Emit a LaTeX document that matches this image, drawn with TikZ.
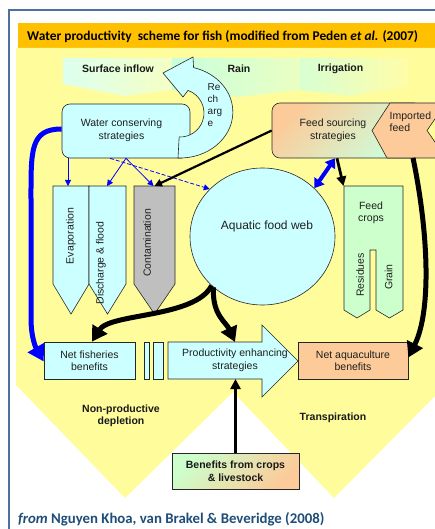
\documentclass[tikz,border=0pt]{standalone}
\usepackage{fontspec}
\setmainfont{Liberation Sans}
\newfontfamily\calib{Carlito}
\usetikzlibrary{arrows.meta,shapes.geometric}
\definecolor{bgy}{HTML}{FFFC9C}
\definecolor{titleor}{HTML}{FFC000}
\definecolor{framec}{HTML}{4F6F9F}
\definecolor{capblue}{HTML}{1F4E79}
\definecolor{cyanf}{HTML}{CCFFFF}
\definecolor{peach}{HTML}{FCCB99}
\definecolor{lgreen}{HTML}{CCFFCC}
\definecolor{grayf}{HTML}{BFBFBF}
\definecolor{fsgreen}{HTML}{CCFFDD}
\definecolor{bandA}{HTML}{DDFFEE}
\definecolor{bandB}{HTML}{F4FFC4}
\definecolor{bandC}{HTML}{C8FFDD}
\definecolor{bandD}{HTML}{EAFFC2}
\definecolor{bandE}{HTML}{D8FFD2}
\definecolor{bandF}{HTML}{FFFDA8}
\begin{document}
\begin{tikzpicture}[x=1pt,y=-1pt,
  box/.style={draw=black!85, line width=0.6pt, inner sep=0pt, fill=cyanf},
  txt/.style={font=\fontsize{10.5}{12.5}\selectfont, align=center, text=black!88, inner sep=0pt},
  btxt/.style={font=\bfseries\fontsize{10.5}{12.5}\selectfont, align=center, text=black!90, inner sep=0pt},
  anc/.style={inner sep=0pt, outer sep=0pt},
  bthin/.style={draw=blue, line width=0.8pt, -{Triangle[length=6pt,width=6pt]}},
  blkarrow/.style={draw=black, line width=#1, -{Triangle[length=3.4*#1,width=3.4*#1]}},
  thickarrow/.style={draw=black, line width=5pt, -{Triangle[length=15pt,width=17pt]}},
]
\useasboundingbox (0,0) rectangle (435,529);
\clip (0,0) rectangle (435,529);
\fill[white] (0,0) rectangle (435,529);
% frame
\draw[framec, line width=2pt] (9,530) -- (9,10) -- (436,10);
% title bar
\fill[titleor] (18,23) rectangle (436,48);
\node[anchor=base west, inner sep=0pt, font=\calib\bfseries\fontsize{13.4}{15}\selectfont] (title) at (27,40.5)
  {Water productivity\ \ scheme for fish (modified from Peden \textit{et al.} (2007)};
% yellow background
\fill[bgy] (16,48) -- (436,48) -- (436,395) -- (334,498) -- (233,392) -- (125,498) -- (16,385) -- cycle;
% inflow band
\shade[left color=bandA, right color=bandB] (63,58) -- (172,58) -- (172,90) -- (125,96) -- (63,84) -- cycle;
\shade[left color=bandC, right color=bandD] (172,58) -- (300,58) -- (300,90) -- (238,97) -- (172,90) -- cycle;
\shade[left color=bandE, right color=bandF] (300,58) -- (408,58) -- (408,86) -- (350,96) -- (300,90) -- cycle;
\node[btxt] (surf) at (118,69) {Surface inflow};
\node[btxt] (rain) at (239,69) {Rain};
\node[btxt] (irr) at (340.5,69) {Irrigation};
% water conserving strategies
\node[box, rounded corners=8pt, minimum width=128pt, minimum height=54pt] (wcs) at (126,131) {};
\node[txt] (wcst) at (121.5,130.5) {Water conserving\\strategies};
% recharge arrow
\draw[box] (178,158) arc[start angle=92, end angle=-75, x radius=53, y radius=46]
  -- (193,57) -- (163,73) -- (183,97) -- (188,90.4)
  arc[start angle=-70.5, end angle=92, radius=24] -- cycle;
\node[txt, align=left, anchor=north west, font=\fontsize{10}{12}\selectfont] (rech) at (207.5,83) {Re\\ch\\arg\\e};
% depletion pentagons
\node[anc, minimum width=36pt, minimum height=128pt] (evap) at (71,250) {};
\node[anc, minimum width=37pt, minimum height=128pt] (disc) at (107.5,250) {};
\node[anc, minimum width=41pt, minimum height=128pt] (cont) at (154.5,250) {};
\foreach \n/\f in {evap/cyanf, disc/cyanf, cont/grayf}{
  \draw[box, fill=\f] (\n.north west) -- (\n.north east) -- ([yshift=30pt]\n.south east) -- (\n.south) -- ([yshift=30pt]\n.south west) -- cycle;
}
\node[txt, rotate=90] (evapt) at (71,236) {Evaporation};
\node[txt, rotate=90] (disct) at (101,263) {Discharge \& flood};
\node[txt, rotate=90] (contt) at (147,243) {Contamination};
% aquatic food web
\node[box, ellipse, minimum width=145pt, minimum height=137pt] (afw) at (262.5,236.5) {};
\node[txt, font=\fontsize{12}{14}\selectfont] (afwt) at (267,226) {Aquatic food web};
% feed sourcing
\node[box, rounded corners=8pt, minimum width=150pt, minimum height=55pt,
      left color=peach, right color=fsgreen, shading angle=45] (fss) at (347,130.5) {};
\node[txt] (fsst) at (333,130.5) {Feed sourcing\\strategies};
\draw[box, fill=peach] (390,103) -- (446,103) -- (427,130.5) -- (446,158) -- (387,158) -- (372,130.5) -- cycle;
\node[txt, align=left, anchor=west] (imp) at (389.5,121.5) {Imported\\feed};
\coordinate (impb) at (413,158);
% feed crops
\node[anc, minimum width=59pt, minimum height=132pt] (fc) at (373.5,252) {};
\draw[box, fill=lgreen] (fc.north west) -- (fc.north east) -- (403,310) -- (389.5,318) -- (376,310) -- (376,250)
  -- (370,250) -- (370,310) -- (357,318) -- (344,310) -- cycle;
\node[txt] (fct) at (371,213) {Feed\\crops};
\node[txt, rotate=90] (res) at (360,275) {Residues};
\node[txt, rotate=90] (grain) at (388.5,277) {Grain};
% bottom row
\node[box, txt, draw=black!85, fill=cyanf, minimum width=91pt, minimum height=37pt] (nfb) at (89.5,360.5) {Net fisheries\\benefits};
\node[box, minimum width=5pt, minimum height=37pt] (s1) at (146.5,360.5) {};
\node[box, minimum width=10pt, minimum height=37pt] (s2) at (158,360.5) {};
\node[anc, minimum width=94pt, minimum height=37pt] (pes) at (215,360.5) {};
\draw[box] (pes.north west) -- (262,342) -- (262,325) -- (298,361) -- (262,397) -- (262,379) -- (pes.south west) -- cycle;
\node[txt] (pest) at (235,360.5) {Productivity enhancing\\strategies};
\node[box, txt, draw=black!85, fill=peach, minimum width=110pt, minimum height=37pt] (nab) at (353,360.5) {Net aquaculture\\benefits};
% labels
\node[btxt] (npd) at (121,416) {Non-productive\\depletion};
\node[btxt] (trans) at (333,418) {Transpiration};
% benefits from crops
\node[box, btxt, draw=black!85, minimum width=127pt, minimum height=36pt,
      left color=lgreen, right color=peach, shading angle=45] (bcl) at (235.5,471) {Benefits from crops\\\& livestock};
% caption
\node[anchor=base west, inner sep=0pt, font=\calib\bfseries\fontsize{14.8}{17}\selectfont, text=capblue] (cap) at (18,523.5)
  {\textit{from} Nguyen Khoa, van Brakel \& Beveridge (2008)};
% ---- connectors ----
\draw[bthin] ([xshift=-3pt]evap.north |- wcs.south) -- ([xshift=-3pt]evap.north);
\draw[bthin] (wcs.south) -- ([xshift=-0.5pt]disc.north);
\draw[bthin] (wcs.south) -- ([xshift=-1pt]cont.north);
\draw[bthin, dashed, dash pattern=on 4pt off 2pt] ([xshift=-16pt]wcs.south) -- (afw.138);
\draw[blkarrow=2.2pt] (fss.west) -- (cont.north);
\draw[draw=blue, line width=4pt, {Triangle[length=9pt,width=12pt]}-{Triangle[length=9pt,width=12pt]}] ([xshift=-12pt]fss.south) -- (afw.43);
\draw[blkarrow=2.8pt] ([xshift=-10pt]fss.south) -- ([xshift=-30pt]fc.north);
\draw[draw=blue, line width=5pt, -{Triangle[length=16pt,width=18pt]}] ([yshift=2pt]wcs.west)
  .. controls (30,129) and (31,150) .. (31,200) -- (31,318)
  .. controls (31,338) and (36,348) .. ([yshift=-1pt]nfb.west);
\draw[thickarrow] (impb) .. controls (428,230) and (432,310) .. ([yshift=3pt]nab.east);
\draw[thickarrow] (afw.224) .. controls (195,318) and (110,313) .. ([xshift=2.5pt]nfb.north);
\draw[thickarrow] (afw.226) .. controls (212,315) and (226,322) .. ([xshift=20pt]pes.north);
\draw[blkarrow=3pt] (bcl.north) -- (bcl.north |- pes.south);
\end{tikzpicture}
\end{document}
